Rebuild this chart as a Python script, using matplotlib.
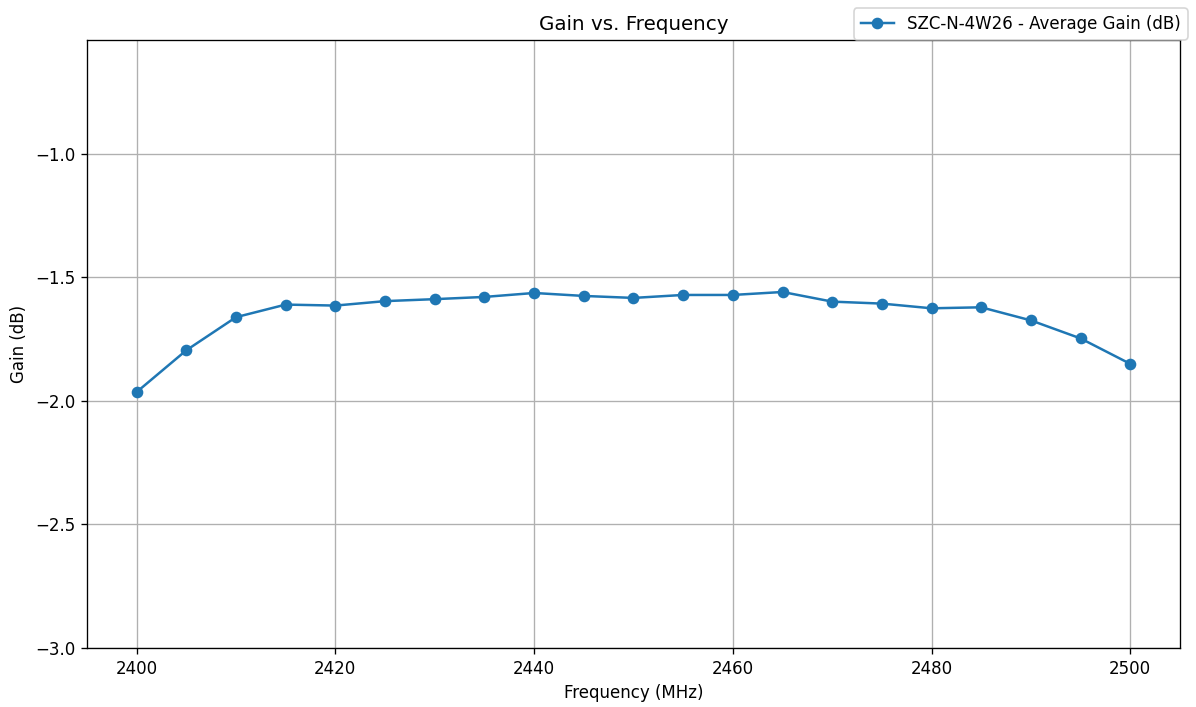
import matplotlib.pyplot as plt

frequency_mhz = [2400, 2405, 2410, 2415, 2420, 2425, 2430, 2435, 2440, 2445, 2450,
                 2455, 2460, 2465, 2470, 2475, 2480, 2485, 2490, 2495, 2500]
average_gain_db = [-1.964, -1.795, -1.661, -1.610, -1.614, -1.596, -1.588, -1.579,
                   -1.563, -1.575, -1.583, -1.571, -1.571, -1.559, -1.598, -1.606,
                   -1.625, -1.621, -1.674, -1.747, -1.850]
series_label = "SZC-N-4W26 - Average Gain (dB)"

# rendered at 10 x 5.91 in, scaled up to 1196 x 707 px
fig, ax = plt.subplots(figsize=(10, 5.9114), dpi=119.6)
ax.plot(frequency_mhz, average_gain_db, marker="o", label=series_label)
ax.set_ylim(-3.0, max(average_gain_db) + 1.02)
ax.set_yticks([-3.0, -2.5, -2.0, -1.5, -1.0])
ax.set_xlabel("Frequency (MHz)")
ax.set_ylabel("Gain (dB)")
ax.set_title("Gain vs. Frequency")
ax.grid(True)
fig.legend(loc="upper right")
fig.subplots_adjust(left=0.0727, right=0.9866, top=0.9434, bottom=0.0835)
fig.savefig("out.png", dpi=119.6)
